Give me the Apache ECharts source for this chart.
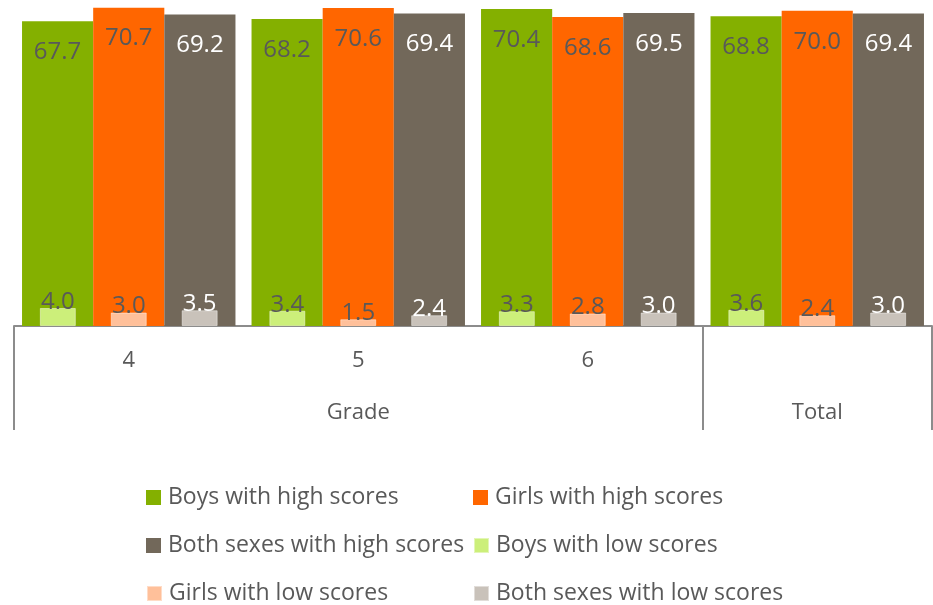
<!DOCTYPE html>
<html>
<head>
<meta charset="utf-8">
<script src="https://cdn.jsdelivr.net/npm/echarts@6/dist/echarts.min.js"></script>
<style>
  html, body { margin: 0; padding: 0; background: #fff; }
  #chart { width: 933px; height: 605px; }
</style>
</head>
<body>
<div id="chart"></div>
<script>
// Grade categories and share of pupils (%) with high / low scores
const grades = ['4', '5', '6', 'Total'];
const boysHigh = [67.7, 68.2, 70.4, 68.8];
const girlsHigh = [70.7, 70.6, 68.6, 70.0];
const bothHigh = [69.2, 69.4, 69.5, 69.4];
const boysLow = [4.0, 3.4, 3.3, 3.6];
const girlsLow = [3.0, 1.5, 2.8, 2.4];
const bothLow = [3.5, 2.4, 3.0, 3.0];
const seriesNames = [
  'Boys with high scores', 'Girls with high scores', 'Both sexes with high scores',
  'Boys with low scores', 'Girls with low scores', 'Both sexes with low scores'
];

const FONT = '"Open Sans", "Noto Sans", sans-serif';
const TEXT = '#595959';
const colors = ['#84B000', '#FF6600', '#72685A', '#CCEF7A', '#FFC09A', '#C9C2BA'];
const labelColors = [TEXT, TEXT, '#ffffff', TEXT, TEXT, '#ffffff'];

function highSeries(i, data) {
  return {
    name: seriesNames[i], type: 'bar', xAxisIndex: 0, data: data,
    barWidth: '31%', barGap: 0,
    itemStyle: { color: colors[i] },
    label: {
      show: true, position: 'insideTop', distance: 19,
      color: labelColors[i], fontSize: 24, fontFamily: FONT,
      formatter: p => p.value.toFixed(1)
    },
    z: 2
  };
}
function lowSeries(i, data) {
  return {
    name: seriesNames[i], type: 'bar', xAxisIndex: 1, data: data,
    barWidth: 36, barGap: '97%',
    itemStyle: { color: colors[i], borderColor: 'rgba(255,255,255,0.45)', borderWidth: 1 },
    label: {
      show: true, position: 'top', distance: -6,
      color: labelColors[i], fontSize: 24, fontFamily: FONT,
      formatter: p => p.value.toFixed(1)
    },
    z: 3
  };
}

// Legend: two columns, three rows
const legendPos = [
  { left: 146, top: 486 }, { left: 473, top: 486 },
  { left: 146, top: 534 }, { left: 473, top: 534 },
  { left: 146, top: 582 }, { left: 473, top: 582 }
];
const legends = seriesNames.map((n, i) => ({
  data: [n], left: legendPos[i].left, top: legendPos[i].top,
  itemWidth: 15, itemHeight: 15, icon: 'rect', padding: 0,
  textStyle: { color: TEXT, fontSize: 23, fontFamily: FONT, padding: [0, 0, 0, 2] }
}));

const chart = echarts.init(document.getElementById('chart'));
chart.setOption({
  animation: false,
  color: colors,
  legend: legends,
  grid: { left: 14, right: 1, top: 0, bottom: 279, containLabel: false },
  xAxis: [
    {
      type: 'category', data: grades, position: 'bottom',
      axisLine: { show: true, lineStyle: { color: '#8c8c8c', width: 2 } },
      axisTick: { show: false },
      axisLabel: {
        color: TEXT, fontSize: 22, fontFamily: FONT, margin: 24,
        formatter: v => (v === 'Total' ? '' : v)
      }
    },
    {
      type: 'category', data: grades, position: 'bottom', show: false
    },
    {
      // Group level: "Grade" spans grades 4–6, "Total" stands alone
      type: 'value', min: 0, max: 4, position: 'bottom',
      axisLine: { show: false },
      splitLine: { show: false },
      axisTick: {
        show: true, length: 104, customValues: [0, 3, 4],
        lineStyle: { color: '#8c8c8c', width: 2 }
      },
      axisLabel: {
        show: true, customValues: [1.5, 3.5], margin: 76,
        color: TEXT, fontSize: 22, fontFamily: FONT,
        formatter: v => (v < 3 ? 'Grade' : 'Total')
      }
    }
  ],
  yAxis: { type: 'value', min: 0, max: 72.4, show: false },
  series: [
    highSeries(0, boysHigh), highSeries(1, girlsHigh), highSeries(2, bothHigh),
    lowSeries(3, boysLow), lowSeries(4, girlsLow), lowSeries(5, bothLow)
  ]
});
</script>
</body>
</html>
